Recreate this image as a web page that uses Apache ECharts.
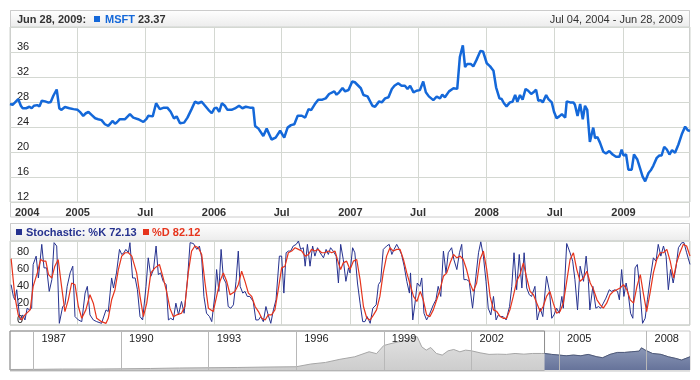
<!DOCTYPE html>
<html><head><meta charset="utf-8">
<script src="https://cdn.jsdelivr.net/npm/echarts@6/dist/echarts.min.js"></script>
<style>html,body{margin:0;padding:0;background:#fff}#c{width:700px;height:380px}</style>
</head><body><div id="c"></div><script>
// ---- MSFT weekly close (main panel) ----
const priceDates = ['2004-07-04','2004-07-11','2004-07-17','2004-07-26','2004-08-02','2004-08-07','2004-08-16','2004-08-25','2004-08-31','2004-09-06','2004-09-15','2004-09-21','2004-09-27','2004-10-06','2004-10-15','2004-10-21','2004-10-28','2004-11-06','2004-11-13','2004-11-19','2004-11-28','2004-12-10','2004-12-21',
'2005-01-01','2005-01-07','2005-01-16','2005-01-23','2005-01-30','2005-02-08','2005-02-17','2005-02-25','2005-03-06','2005-03-15','2005-03-24','2005-03-29','2005-04-05','2005-04-11','2005-04-17','2005-04-24','2005-05-08','2005-05-21','2005-05-30','2005-06-12','2005-06-26','2005-07-05','2005-07-09','2005-07-21','2005-07-30','2005-08-09','2005-08-20','2005-08-29','2005-09-07','2005-09-16','2005-09-23','2005-10-02','2005-10-13','2005-10-22','2005-11-02','2005-11-11','2005-11-20','2005-11-29','2005-12-08','2005-12-17','2005-12-26',
'2006-01-02','2006-01-08','2006-01-15','2006-01-22','2006-01-30','2006-02-06','2006-02-17','2006-02-26','2006-03-09','2006-03-18','2006-03-27','2006-04-07','2006-04-16','2006-04-21','2006-04-30','2006-05-13','2006-05-22','2006-06-04','2006-06-15','2006-06-27','2006-07-01','2006-07-08','2006-07-17','2006-07-26','2006-08-04','2006-08-13','2006-08-24','2006-09-02','2006-09-11','2006-09-18','2006-09-28','2006-10-07','2006-10-18','2006-10-27','2006-11-05','2006-11-19','2006-11-25','2006-12-02','2006-12-11','2006-12-18','2006-12-27','2006-12-31',
'2007-01-06','2007-01-13','2007-01-29','2007-02-05','2007-02-16','2007-03-01','2007-03-08','2007-03-19','2007-03-26','2007-04-04','2007-04-13','2007-04-22','2007-04-29','2007-05-09','2007-05-18','2007-05-27','2007-06-03','2007-06-10','2007-06-19','2007-06-27','2007-07-06','2007-07-15','2007-07-22','2007-07-30','2007-08-11','2007-08-20','2007-08-29','2007-09-04','2007-09-11','2007-09-22','2007-10-04','2007-10-14','2007-10-21','2007-10-29','2007-11-04','2007-11-10','2007-11-19','2007-11-26','2007-12-04','2007-12-15','2007-12-22',
'2008-01-01','2008-01-10','2008-01-19','2008-01-26','2008-02-04','2008-02-10','2008-02-16','2008-02-23','2008-03-03','2008-03-10','2008-03-17','2008-03-23','2008-03-30','2008-04-06','2008-04-14','2008-04-21','2008-04-29','2008-05-05','2008-05-12','2008-05-18','2008-05-24','2008-05-30','2008-06-08','2008-06-14','2008-06-23','2008-06-29','2008-07-06','2008-07-13','2008-07-20','2008-07-29','2008-08-02','2008-08-11','2008-08-20','2008-08-24','2008-08-31','2008-09-07','2008-09-14','2008-09-20','2008-09-26','2008-10-03','2008-10-12','2008-10-17','2008-10-23','2008-10-30','2008-11-08','2008-11-15','2008-11-24','2008-12-03','2008-12-12','2008-12-21','2008-12-27',
'2009-01-01','2009-01-08','2009-01-14','2009-01-23','2009-01-29','2009-02-07','2009-02-14','2009-02-21','2009-02-28','2009-03-09','2009-03-15','2009-03-22','2009-03-31','2009-04-07','2009-04-13','2009-04-20','2009-04-27','2009-05-04','2009-05-11','2009-05-19','2009-05-28','2009-06-06','2009-06-15','2009-06-22','2009-06-28'];
const priceValues = [27.67,27.56,27.9,28.47,27.4,27.0,27.0,27.24,27.0,27.4,27.5,27.3,28.2,28.1,27.9,28.0,29.0,30.0,26.97,26.75,27.2,27.0,26.86,
26.75,26.43,25.78,26.2,26.4,25.9,25.4,25.25,25.1,24.44,24.17,24.17,24.98,24.5,24.8,25.25,25.25,26.05,25.5,25.25,24.8,25.35,25.8,25.7,27.8,26.86,27.1,27.1,26.43,25.35,25.7,24.6,24.7,25.5,26.86,28.04,27.8,28.04,27.4,26.75,26.2,
26.97,27.1,26.43,27.8,27.4,26.75,26.75,26.97,27.4,27.0,27.24,27.1,27.1,24.17,23.74,22.56,23.74,22.0,22.3,23.4,23.3,22.3,23.9,24.3,24.44,25.8,25.8,25.5,26.86,26.7,27.67,28.37,28.37,28.58,29.28,29.7,29.17,29.55,30.25,29.7,29.92,29.7,
31.27,31.16,30.2,29.12,28.9,27.4,27.24,28.1,27.94,28.58,28.75,30.09,30.6,31.0,30.6,30.6,30.09,30.6,29.55,29.8,29.9,31.27,29.55,28.9,28.3,28.85,28.58,29.17,28.75,29.7,30.2,30.1,35.2,37.05,33.6,34.1,34.1,33.7,34.66,36.16,36.1,
34.2,33.7,33.0,30.35,28.58,28.47,27.8,27.3,27.94,28.04,29.12,28.04,29.12,28.37,30.09,29.8,29.28,29.55,29.98,28.2,28.3,27.94,29.12,28.47,27.94,26.43,25.4,25.7,26.05,25.5,28.1,27.94,27.94,27.56,25.78,27.67,25.25,27.4,26.75,21.6,23.9,22.2,22.4,21.5,20.03,19.76,20.14,19.6,19.23,19.23,20.4,
19.44,19.6,17.18,17.18,19.6,18.8,17.45,16.1,15.3,16.65,17.07,17.83,19.06,19.44,19.44,20.84,20.4,19.6,20.3,19.87,21.2,22.83,24.06,23.47,23.37];

// ---- Stochastic (days counted from 2004-07-04) ----
const kDays = [3,9,13,18,22,27,34,40,46,52,58,62,70,76,85,91,98,105,112,118,125,132,141,147,153,161,168,174,183,192,201,207,214,223,232,245,257,263,272,277,285,293,299,305,310,317,321,328,335,341,348,355,364,370,377,384,391,397,403,410,418,424,430,437,444,451,459,466,475,482,491,500,507,513,519,526,534,540,549,553,559,565,571,578,584,591,598,605,611,616,623,629,635,642,651,658,665,671,678,685,691,698,705,712,721,727,733,739,745,751,758,766,772,778,785,790,796,803,810,816,823,830,839,846,852,858,865,873,879,885,892,899,906,
910,917,923,930,937,944,950,956,964,971,980,986,992,999,1008,1015,1022,1028,1035,1042,1048,1055,1062,1069,1072,1078,1084,1090,1097,1102,1108,1115,1124,1133,1140,1146,1153,1160,1167,1173,1182,1188,1196,1203,1209,1215,1222,1229,1238,1247,1254,1260,1267,1274,1280,1287,1294,1301,1307,1313,1320,1328,1337,1343,1349,1356,1363,1370,1376,1383,1390,1396,1405,1411,1419,1426,1436,1444,1450,1456,1463,1470,1477,1481,1490,1499,1506,1512,1519,1526,1535,1542,1548,1552,1560,1568,1575,1581,1588,1595,1604,1610,1619,1626,1631,1637,1643,1649,1655,1661,1667,1673,1679,1686,1693,1700,1706,1713,1722,1729,1735,1742,1749,1756,1762,1768,1775,1783,1789,1798,1804,1811,1820];
const kValues = [48,34,30,42,24,6,12,6,20,18,20,72,82,56,96,68,68,40,54,98,94,2,22,24,46,62,70,10,6,4,38,46,12,6,4,2,18,16,56,44,62,90,84,86,90,86,98,56,56,42,10,6,46,80,58,66,94,60,62,52,48,6,8,6,26,12,28,14,54,98,97,90,94,80,34,14,10,4,38,66,40,90,56,50,22,20,24,52,88,46,38,40,34,34,28,6,6,10,4,22,12,2,18,30,82,82,38,86,88,88,94,96,100,90,92,70,96,70,94,82,92,86,80,90,84,92,88,82,50,96,78,52,68,
62,92,86,50,26,4,4,10,2,20,24,48,52,90,94,96,84,90,96,90,84,70,52,38,62,6,26,50,46,56,14,6,14,24,30,46,34,88,62,86,92,78,66,86,96,54,54,52,20,58,86,99,82,52,20,12,34,6,12,10,10,6,22,46,86,42,84,44,86,44,36,34,46,6,20,10,58,40,8,12,20,14,34,20,97,86,76,54,18,70,52,82,52,18,46,20,22,20,26,32,42,40,42,40,30,66,34,50,36,14,8,68,72,42,2,8,30,54,80,76,96,82,94,82,42,66,50,70,92,98,98,86,72.13];
const dDays = [3,13,22,31,40,54,62,73,82,89,96,103,112,120,129,138,147,156,165,174,183,192,203,214,223,232,245,257,263,272,281,290,299,308,317,326,339,348,357,366,377,388,400,410,419,428,437,446,459,468,477,486,495,504,513,522,531,544,553,562,571,580,589,602,611,620,629,638,647,656,665,674,683,691,700,709,718,727,736,745,754,763,772,781,790,799,807,816,825,834,843,852,861,870,879,885,892,901,
910,919,928,937,946,955,964,973,981,990,999,1008,1017,1026,1035,1044,1053,1062,1071,1080,1089,1098,1106,1115,1124,1133,1142,1151,1160,1169,1178,1187,1196,1205,1213,1222,1231,1240,1249,1258,1267,1276,1285,1294,1303,1312,1320,1329,1338,1347,1356,1365,1374,1383,1392,1401,1410,1419,1427,1436,1445,1454,1463,1472,1481,1490,1499,1508,1517,1526,1535,1544,1553,1562,1571,1580,1588,1597,1606,1615,1624,1633,1642,1651,1660,1669,1678,1687,1695,1704,1713,1722,1731,1740,1749,1758,1767,1776,1784,1793,1802,1811,1820];
const dValues = [79,34,12,6,12,18,46,62,78,76,76,60,56,70,78,46,16,30,50,48,22,8,18,36,26,8,4,2,8,30,42,66,82,86,86,82,62,34,10,26,62,68,72,56,40,20,10,12,14,22,62,88,94,92,84,50,20,16,34,52,62,52,36,40,48,64,52,38,34,22,16,8,6,12,12,18,42,68,70,86,88,92,90,88,82,84,90,88,90,86,86,88,86,88,74,66,74,76,
66,76,78,54,22,8,6,12,18,34,62,82,92,88,90,90,78,62,48,34,28,40,30,12,10,18,30,42,58,62,74,84,80,82,78,66,50,40,50,78,88,66,34,18,16,10,8,8,18,34,52,60,74,56,40,36,26,16,22,34,40,26,14,16,26,52,78,86,66,52,56,64,50,42,30,24,20,26,36,40,42,44,48,42,30,26,46,60,38,16,38,62,78,86,86,90,76,56,74,86,96,94,82.12];

// ---- Navigator (full history) ----
const navDates = ['1986-03-13','1987-01-01','1988-01-01','1989-01-01','1990-01-01','1991-01-01','1992-01-01','1993-01-01','1994-01-01','1995-01-01','1996-01-01','1996-07-01','1997-01-01','1997-07-01','1998-01-01','1998-07-01','1998-10-01','1999-01-01','1999-04-01','1999-07-01','1999-10-01','1999-12-15','2000-01-01','2000-02-24','2000-04-20','2000-06-15','2000-08-10','2000-10-20','2001-01-01','2001-03-15','2001-05-25','2001-08-10','2001-10-20','2002-01-01','2002-04-20','2002-08-10','2002-11-25','2003-03-15','2003-07-01','2003-10-20','2004-02-05','2004-05-25','2004-07-04','2004-10-01','2005-01-01','2005-04-01','2005-07-01','2005-10-01','2006-01-01','2006-04-20','2006-07-01','2006-10-01','2007-01-01','2007-04-01','2007-07-01','2007-10-01','2007-10-30','2007-12-15','2008-03-15','2008-07-01','2008-10-01','2009-01-01','2009-03-15','2009-06-28'];
const navValues = [0.8,1.0,1.5,1.5,1.9,2.4,3.2,3.6,4.0,4.7,5.2,9.5,12,17,21,29,26,39,42,44.7,47,50,53.6,52.6,36.8,31.6,35.8,26.3,23.7,30.5,32.6,28.9,31.6,30.5,27.3,24.8,25.2,24.8,26.3,25.2,26.3,26.3,26.3,24.8,23.7,22.6,23.7,22.6,24.8,21,19.5,24.8,27.9,27.9,29,30,35.2,31.6,26.3,24.8,21,18.4,15.8,21];

// ---- axis ticks / labels ----
const rangeStart = '2004-07-04', rangeEnd = '2009-06-28', navStart = '1986-03-13';
const gridTickDates = ['2005-01-01','2005-07-01','2006-01-01','2006-07-01','2007-01-01','2007-07-01','2008-01-01','2008-07-01','2009-01-01'];
const xTickLabels = ['2004','2005','Jul','2006','Jul','2007','Jul','2008','Jul','2009'];
const navYearDates = ['1987-01-01','1990-01-01','1993-01-01','1996-01-01','1999-01-01','2002-01-01','2005-01-01','2008-01-01'];
const navYearLabels = ['1987','1990','1993','1996','1999','2002','2005','2008'];

const FONT = '"Liberation Sans", Arial, sans-serif';
const GRID = '#d4d8d2';
const PRICE = '#1468d9', KCOL = '#26328f', DCOL = '#e6341c';

function ts(s){ const p = s.split('-').map(Number); return new Date(p[0], p[1]-1, p[2]).getTime(); }
function dayTs(d){ return new Date(2004, 6, 4 + d).getTime(); }
const T0 = ts(rangeStart), T1 = ts(rangeEnd), N0 = ts(navStart);
const gridTicks = gridTickDates.map(ts);
const labelTicks = [T0].concat(gridTicks);
const labelMap = new Map(labelTicks.map((t,i)=>[t, xTickLabels[i]]));
const navTicks = navYearDates.map(ts);
const navMap = new Map(navTicks.map((t,i)=>[t, navYearLabels[i]]));

const priceData = priceDates.map((d,i)=>[ts(d), priceValues[i]]);
const kData = kDays.map((d,i)=>[dayTs(d), kValues[i]]);
const dData = dDays.map((d,i)=>[dayTs(d), dValues[i]]);
const navData = navDates.map((d,i)=>[ts(d), navValues[i]]);
const navSel = navData.filter(p=>p[0] >= T0);

const lastPrice = priceValues[priceValues.length-1].toFixed(2);
const lastK = kValues[kValues.length-1].toFixed(2);
const lastD = dValues[dValues.length-1].toFixed(2);

const chart = echarts.init(document.getElementById('c'), null, {renderer:'canvas'});
const hdrGrad = new echarts.graphic.LinearGradient(0,0,0,1,[{offset:0,color:'#ffffff'},{offset:1,color:'#ebebeb'}]);
const hdrGrad2 = new echarts.graphic.LinearGradient(0,0,0,1,[{offset:0,color:'#ffffff'},{offset:1,color:'#ebebeb'}]);

const plainX = (gi, h) => ({
  type:'value', gridIndex:gi, min:T0, max:T1, scale:true,
  axisLine:{show:false, onZero:false}, splitLine:{show:false},
  axisTick:{show:true, inside:true, length:h, customValues:gridTicks, lineStyle:{color:GRID, width:1}},
  axisLabel:{show:false}
});

chart.setOption({
  animation:false,
  backgroundColor:'#ffffff',
  textStyle:{fontFamily:FONT},
  grid:[
    {left:10, top:27, width:680, height:175, show:true, borderColor:'#cfd3ce', borderWidth:1, backgroundColor:'transparent'},
    {left:10, top:241, width:680, height:84, show:true, borderColor:'#cfd3ce', borderWidth:1, backgroundColor:'transparent'},
    {left:10, top:331, width:680, height:39, show:true, borderColor:'#c8c8c8', borderWidth:1, backgroundColor:'transparent'}
  ],
  xAxis:[
    Object.assign(plainX(0,175), {
      axisLabel:{show:true, customValues:labelTicks, showMinLabel:true, alignMinLabel:'left',
        formatter:(v)=> labelMap.get(v) === '2004' ? '{m|2004}' : (labelMap.get(v) || ''),
        rich:{m:{padding:[0,0,0,5], fontWeight:'bold', fontSize:11, color:'#333', fontFamily:FONT}},
        fontWeight:'bold', fontSize:11, color:'#333', margin:5, fontFamily:FONT}
    }),
    plainX(1,84),
    {type:'value', gridIndex:2, min:N0, max:T1, scale:true, position:'top', z:10,
      axisLine:{show:false, onZero:false}, splitLine:{show:false},
      axisTick:{show:true, inside:true, length:39, customValues:navTicks, lineStyle:{color:'#b8b8b8'}},
      axisLabel:{show:true, inside:true, customValues:navTicks, formatter:(v)=>navMap.get(v)||'',
        align:'left', verticalAlign:'top', padding:[0,0,0,8], margin:2, fontSize:11, color:'#222', fontFamily:FONT}
    }
  ],
  yAxis:[
    {type:'value', gridIndex:0, min:12, max:40, interval:4,
      axisLine:{show:false}, axisTick:{show:false},
      splitLine:{show:true, lineStyle:{color:GRID}},
      axisLabel:{inside:true, showMaxLabel:false, verticalAlign:'bottom', margin:7, color:'#222', fontSize:11, fontFamily:FONT}},
    {type:'value', gridIndex:1, min:0, max:100, interval:20,
      axisLine:{show:false}, axisTick:{show:false},
      splitLine:{show:true, lineStyle:{color:GRID}},
      axisLabel:{inside:true, showMaxLabel:false, verticalAlign:'bottom', margin:7, color:'#222', fontSize:11, fontFamily:FONT}},
    {type:'value', gridIndex:2, min:0, max:62, show:false}
  ],
  series:[
    {type:'line', name:'MSFT', xAxisIndex:0, yAxisIndex:0, data:priceData, showSymbol:false,
      lineStyle:{color:PRICE, width:2.5}, itemStyle:{color:PRICE}, z:5},
    {type:'line', name:'%K', xAxisIndex:1, yAxisIndex:1, data:kData, showSymbol:false,
      lineStyle:{color:KCOL, width:1}, itemStyle:{color:KCOL}, z:4},
    {type:'line', name:'%D', xAxisIndex:1, yAxisIndex:1, data:dData, showSymbol:false,
      lineStyle:{color:DCOL, width:1.2}, itemStyle:{color:DCOL}, z:5},
    {type:'line', name:'nav', xAxisIndex:2, yAxisIndex:2, data:navData, showSymbol:false,
      lineStyle:{color:'#a6a6a6', width:1},
      areaStyle:{color:new echarts.graphic.LinearGradient(0,0,0,1,[{offset:0,color:'#e2e2e2'},{offset:1,color:'#cdcdcd'}]), opacity:1},
      markArea:{silent:true, itemStyle:{color:'rgba(0,0,0,0)', borderColor:'#8c8c8c', borderWidth:1},
        data:[[{xAxis:N0},{xAxis:T0}]]}, z:2},
    {type:'line', name:'navSel', xAxisIndex:2, yAxisIndex:2, data:navSel, showSymbol:false,
      lineStyle:{color:'#4e5a7c', width:1},
      areaStyle:{color:new echarts.graphic.LinearGradient(0,0,0,1,[{offset:0,color:'#8b97b6'},{offset:1,color:'#66739a'}]), opacity:1}, z:3}
  ],
  graphic:[
    {type:'rect', z:-1, shape:{x:10.5,y:10.5,width:679,height:206.5}, style:{fill:'none', stroke:'#cccccc', lineWidth:1}},
    {type:'rect', z:-1, shape:{x:10.5,y:10.5,width:679,height:17}, style:{fill:hdrGrad, stroke:'#cccccc', lineWidth:1}},
    {type:'text', x:17, y:19.5, style:{text:'Jun 28, 2009:', font:'bold 11px '+FONT, fill:'#333', verticalAlign:'middle'}},
    {type:'rect', shape:{x:94,y:16,width:6,height:6}, style:{fill:PRICE}},
    {type:'text', x:105, y:19.5, style:{text:'{n|MSFT} {v|'+lastPrice+'}', font:'bold 11px '+FONT, verticalAlign:'middle',
      rich:{n:{fill:PRICE, font:'bold 11px '+FONT}, v:{fill:'#333', font:'bold 11px '+FONT}}}},
    {type:'text', x:683, y:19.5, style:{text:'Jul 04, 2004 - Jun 28, 2009', font:'11px '+FONT, fill:'#333', align:'right', verticalAlign:'middle'}},
    {type:'rect', z:-1, shape:{x:10.5,y:223.5,width:679,height:101.5}, style:{fill:'none', stroke:'#cccccc', lineWidth:1}},
    {type:'rect', z:-1, shape:{x:10.5,y:223.5,width:679,height:17.5}, style:{fill:hdrGrad2, stroke:'#cccccc', lineWidth:1}},
    {type:'rect', shape:{x:16,y:229,width:6,height:6}, style:{fill:KCOL}},
    {type:'text', x:26, y:232.5, style:{text:'Stochastic: %K '+lastK, font:'bold 11px '+FONT, fill:KCOL, verticalAlign:'middle'}},
    {type:'rect', shape:{x:143,y:229,width:6,height:6}, style:{fill:DCOL}},
    {type:'text', x:152, y:232.5, style:{text:'%D '+lastD, font:'bold 11px '+FONT, fill:DCOL, verticalAlign:'middle'}},
    {type:'rect', z:-1, shape:{x:10,y:370.5,width:680,height:1.5}, style:{fill:'#e2e2e2'}}
  ]
});
</script></body></html>
